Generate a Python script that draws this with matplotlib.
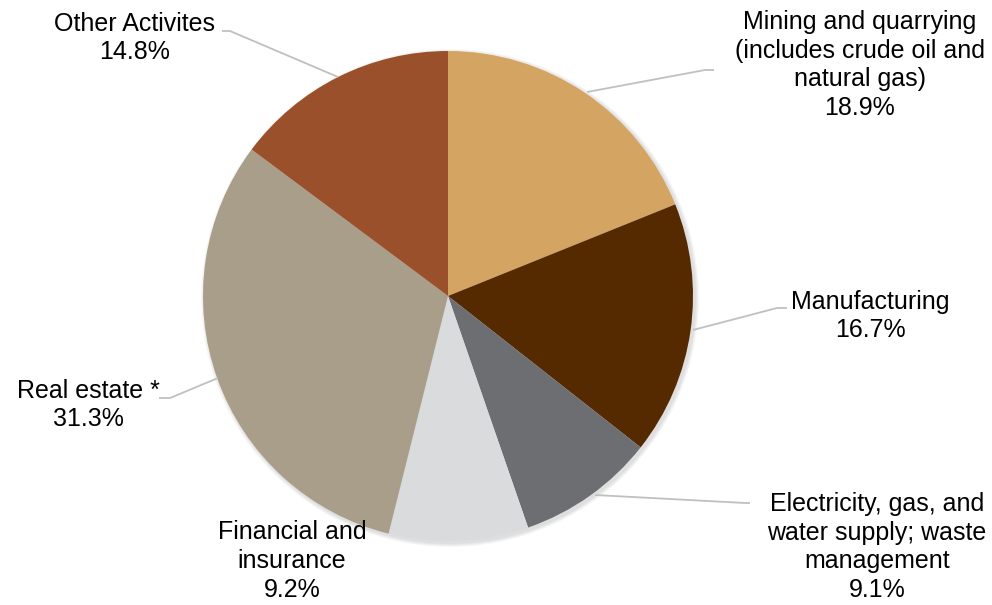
import matplotlib
matplotlib.use("Agg")
import matplotlib.pyplot as plt
from matplotlib.patches import Circle

categories = ["Mining and quarrying\n(includes crude oil and\nnatural gas)",
              "Manufacturing",
              "Electricity, gas, and\nwater supply; waste\nmanagement",
              "Financial and\ninsurance",
              "Real estate *",
              "Other Activites"]
values = [18.9, 16.7, 9.1, 9.2, 31.3, 14.8]
colors = ["#D4A462", "#552A00", "#6D6E71", "#D9DBDD", "#A99E89", "#9B502C"]

W, H = 992, 605
fig = plt.figure(figsize=(W / 100, H / 100), dpi=100)
ax = fig.add_axes([0, 0, 1, 1])

def P(x, y):
    return (x, H - y)

cx, cy = P(448, 296)
R = 245

# soft shadow
for i in range(4):
    ax.add_patch(Circle((cx + 2, cy - 2), R + 4 - i, color="black", alpha=0.03, lw=0, zorder=0))

ax.pie(values, colors=colors, startangle=90, counterclock=False,
       center=(cx, cy), radius=R, frame=True,
       wedgeprops=dict(linewidth=0))
ax.set_xlim(0, W)
ax.set_ylim(0, H)
ax.set_aspect("equal")
ax.axis("off")

font = dict(family="Liberation Sans", fontsize=18, color="#000000",
            ha="center", va="center", linespacing=1.26)

label_pos = [(860, 65), (870, 316), (877, 547), (292, 561), (88, 405), (135, 38)]
for lab, v, (x, y) in zip(categories, values, label_pos):
    ax.text(*P(x, y), f"{lab}\n{v:.1f}%", **font)

leaders = [
    [(714, 70), (705, 70), (587, 92)],
    [(787, 308), (777, 308), (693, 330)],
    [(750, 503), (745, 503), (595, 495)],
    [(159, 398), (170, 398), (218, 378)],
    [(222, 31), (230, 31), (338, 77)],
]
for pts in leaders:
    xs = [p[0] for p in pts]
    ys = [H - p[1] for p in pts]
    ax.plot(xs, ys, color="#C0C0C0", lw=1.3, zorder=5, solid_capstyle="butt")

fig.savefig("out.png", dpi=100)
